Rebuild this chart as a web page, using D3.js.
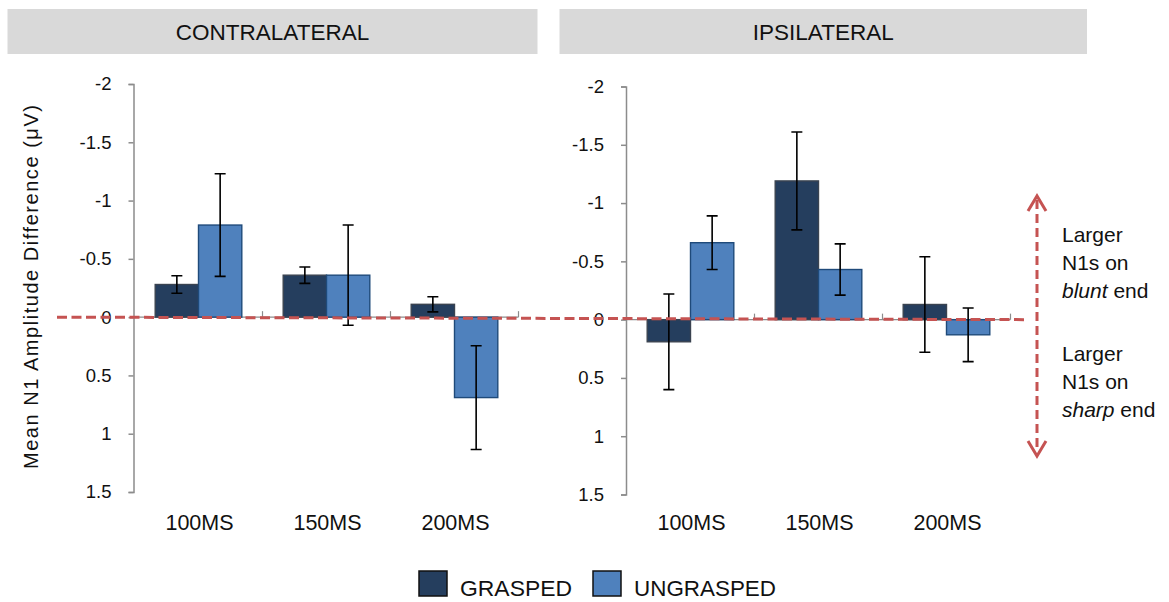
<!DOCTYPE html>
<html>
<head>
<meta charset="utf-8">
<script src="https://cdn.jsdelivr.net/npm/d3@7"></script>
<style>
  html, body { margin: 0; padding: 0; background: #fff; }
  svg { display: block; font-family: "Liberation Sans", Arial, sans-serif; }
</style>
</head>
<body>
<svg id="chart" width="1169" height="602"></svg>
<script>
// Mean N1 amplitude difference by time window, grasped vs ungrasped
const categories = ["100MS", "150MS", "200MS"];
const seriesNames = ["GRASPED", "UNGRASPED"];
const panelTitles = ["CONTRALATERAL", "IPSILATERAL"];

const contraGrasped = [-0.28, -0.36, -0.11];
const contraGraspedErr = [0.075, 0.07, 0.065];
const contraUngrasped = [-0.79, -0.36, 0.69];
const contraUngraspedErr = [0.44, 0.43, 0.445];

const ipsiGrasped = [0.19, -1.19, -0.13];
const ipsiGraspedErr = [0.41, 0.42, 0.41];
const ipsiUngrasped = [-0.66, -0.43, 0.13];
const ipsiUngraspedErr = [0.23, 0.22, 0.23];

const tickValues = [-2, -1.5, -1, -0.5, 0, 0.5, 1, 1.5];
const tickLabels = ["-2", "-1.5", "-1", "-0.5", "0", "0.5", "1", "1.5"];

const yTitle = "Mean N1 Amplitude Difference (\u03bcV)";
const noteBlunt = ["Larger", "N1s on", ["blunt", " end"]];
const noteSharp = ["Larger", "N1s on", ["sharp", " end"]];

const colors = { GRASPED: "#253E5E", UNGRASPED: "#4F81BD" };
const strokes = { GRASPED: "#3a4350", UNGRASPED: "#1F4A7A" };
const red = "#C55352";

const svg = d3.select("#chart");

const panels = [
  { title: panelTitles[0], header: [7.5, 537.5], axisX: 133.5, xr: [134.5, 518.5], yr: [84, 492],
    series: [
      { name: "GRASPED", values: contraGrasped, err: contraGraspedErr },
      { name: "UNGRASPED", values: contraUngrasped, err: contraUngraspedErr } ] },
  { title: panelTitles[1], header: [559.5, 1087], axisX: 626, xr: [626.5, 1010.5], yr: [86.5, 494.5],
    series: [
      { name: "GRASPED", values: ipsiGrasped, err: ipsiGraspedErr },
      { name: "UNGRASPED", values: ipsiUngrasped, err: ipsiUngraspedErr } ] }
];

const yScales = [];

panels.forEach(p => {
  const g = svg.append("g");

  // panel header strip
  g.append("rect")
    .attr("x", p.header[0]).attr("y", 9)
    .attr("width", p.header[1] - p.header[0]).attr("height", 45)
    .attr("fill", "#D9D9D9");
  g.append("text")
    .attr("x", (p.header[0] + p.header[1]) / 2).attr("y", 32)
    .attr("text-anchor", "middle").attr("dominant-baseline", "central")
    .attr("font-size", 22.5).attr("fill", "#111")
    .text(p.title);

  const y = d3.scaleLinear().domain([-2, 1.5]).range(p.yr);
  yScales.push(y);
  const x0 = d3.scaleBand().domain(categories).range(p.xr).paddingInner(0).paddingOuter(0);
  const x1 = d3.scaleBand().domain(seriesNames).range([0, x0.bandwidth()]).paddingInner(0).paddingOuter(0.478);

  // value axis
  const yAxis = d3.axisLeft(y)
    .tickValues(tickValues)
    .tickFormat((d, i) => tickLabels[i])
    .tickSizeInner(5).tickSizeOuter(5).tickPadding(17);
  const ax = g.append("g").attr("transform", `translate(${p.axisX},0)`).call(yAxis);
  ax.select(".domain").attr("stroke", "#8C8C8C").attr("stroke-width", 1.5);
  ax.selectAll(".tick line").attr("stroke", "#8C8C8C").attr("stroke-width", 1.5);
  ax.selectAll(".tick text").attr("font-size", 18.5).attr("fill", "#111")
    .attr("font-family", "'Liberation Sans', Arial, sans-serif");

  // category axis along zero, with upward boundary ticks
  g.append("line")
    .attr("x1", p.axisX).attr("x2", p.xr[1])
    .attr("y1", y(0)).attr("y2", y(0))
    .attr("stroke", "#8C8C8C").attr("stroke-width", 1.2);
  g.selectAll(".cat-tick").data(categories).enter().append("line")
    .attr("x1", d => x0(d) + x0.bandwidth()).attr("x2", d => x0(d) + x0.bandwidth())
    .attr("y1", y(0)).attr("y2", y(0) - 6)
    .attr("stroke", "#8C8C8C").attr("stroke-width", 1.2);
  g.selectAll(".cat-label").data(categories).enter().append("text")
    .attr("x", d => x0(d) + x0.bandwidth() / 2 + 1).attr("y", 530)
    .attr("text-anchor", "middle").attr("font-size", 21.5).attr("fill", "#111")
    .text(d => d);

  // bars and error bars
  p.series.forEach(s => {
    const sg = g.append("g");
    const rows = categories.map((c, i) => ({ c, v: s.values[i], e: s.err[i] }));
    sg.selectAll("rect").data(rows).enter().append("rect")
      .attr("x", d => x0(d.c) + x1(s.name))
      .attr("width", x1.bandwidth())
      .attr("y", d => Math.min(y(d.v), y(0)))
      .attr("height", d => Math.abs(y(d.v) - y(0)))
      .attr("fill", colors[s.name])
      .attr("stroke", strokes[s.name]).attr("stroke-width", 1.4);
    const cx = d => x0(d.c) + x1(s.name) + x1.bandwidth() / 2;
    sg.selectAll(".eb").data(rows).enter().append("path")
      .attr("fill", "none").attr("stroke", "#000").attr("stroke-width", 1.6)
      .attr("d", d => {
        const a = y(d.v - d.e), b = y(d.v + d.e), c = cx(d), w = 5.5;
        return `M${c},${a}V${b}M${c - w},${a}H${c + w}M${c - w},${b}H${c + w}`;
      });
  });
});

// y-axis title
svg.append("text")
  .attr("transform", "translate(31,287) rotate(-90)")
  .attr("text-anchor", "middle").attr("dominant-baseline", "central")
  .attr("font-size", 20).attr("fill", "#111")
  .attr("textLength", 364).attr("lengthAdjust", "spacing")
  .text(yTitle);

// dashed zero reference spanning both panels
svg.append("line")
  .attr("x1", 57).attr("y1", yScales[0](0))
  .attr("x2", 1028).attr("y2", yScales[1](0))
  .attr("stroke", red).attr("stroke-width", 3)
  .attr("stroke-dasharray", "10,4.5");

// double-headed direction arrow
const arrowX = 1037, arrowTop = 196, arrowBot = 456;
svg.append("line")
  .attr("x1", arrowX).attr("x2", arrowX).attr("y1", arrowTop + 4).attr("y2", arrowBot - 4)
  .attr("stroke", red).attr("stroke-width", 3).attr("stroke-dasharray", "9,5");
svg.append("path")
  .attr("fill", "none").attr("stroke", red).attr("stroke-width", 3).attr("stroke-linejoin", "miter")
  .attr("d", `M${arrowX - 9},${arrowTop + 15}L${arrowX},${arrowTop}L${arrowX + 9},${arrowTop + 15}` +
             `M${arrowX - 9},${arrowBot - 15}L${arrowX},${arrowBot}L${arrowX + 9},${arrowBot - 15}`);

// side notes
function drawNote(lines, y0) {
  const t = svg.append("text").attr("font-size", 21).attr("fill", "#111");
  lines.forEach((ln, i) => {
    const yy = y0 + i * 28;
    if (Array.isArray(ln)) {
      t.append("tspan").attr("x", 1062).attr("y", yy).attr("font-style", "italic").text(ln[0]);
      t.append("tspan").text(ln[1]);
    } else {
      t.append("tspan").attr("x", 1062).attr("y", yy).text(ln);
    }
  });
}
drawNote(noteBlunt, 242);
drawNote(noteSharp, 361);

// legend
const legend = svg.append("g");
const legendX = [419, 593];
seriesNames.forEach((n, i) => {
  legend.append("rect")
    .attr("x", legendX[i]).attr("y", 571).attr("width", 28).attr("height", 25)
    .attr("fill", colors[n]).attr("stroke", "#111").attr("stroke-width", 1.5);
  legend.append("text")
    .attr("x", legendX[i] + 41).attr("y", 596)
    .attr("font-size", 22).attr("fill", "#111")
    .attr("textLength", n === "GRASPED" ? 112 : 142).attr("lengthAdjust", "spacingAndGlyphs")
    .text(n);
});
</script>
</body>
</html>
